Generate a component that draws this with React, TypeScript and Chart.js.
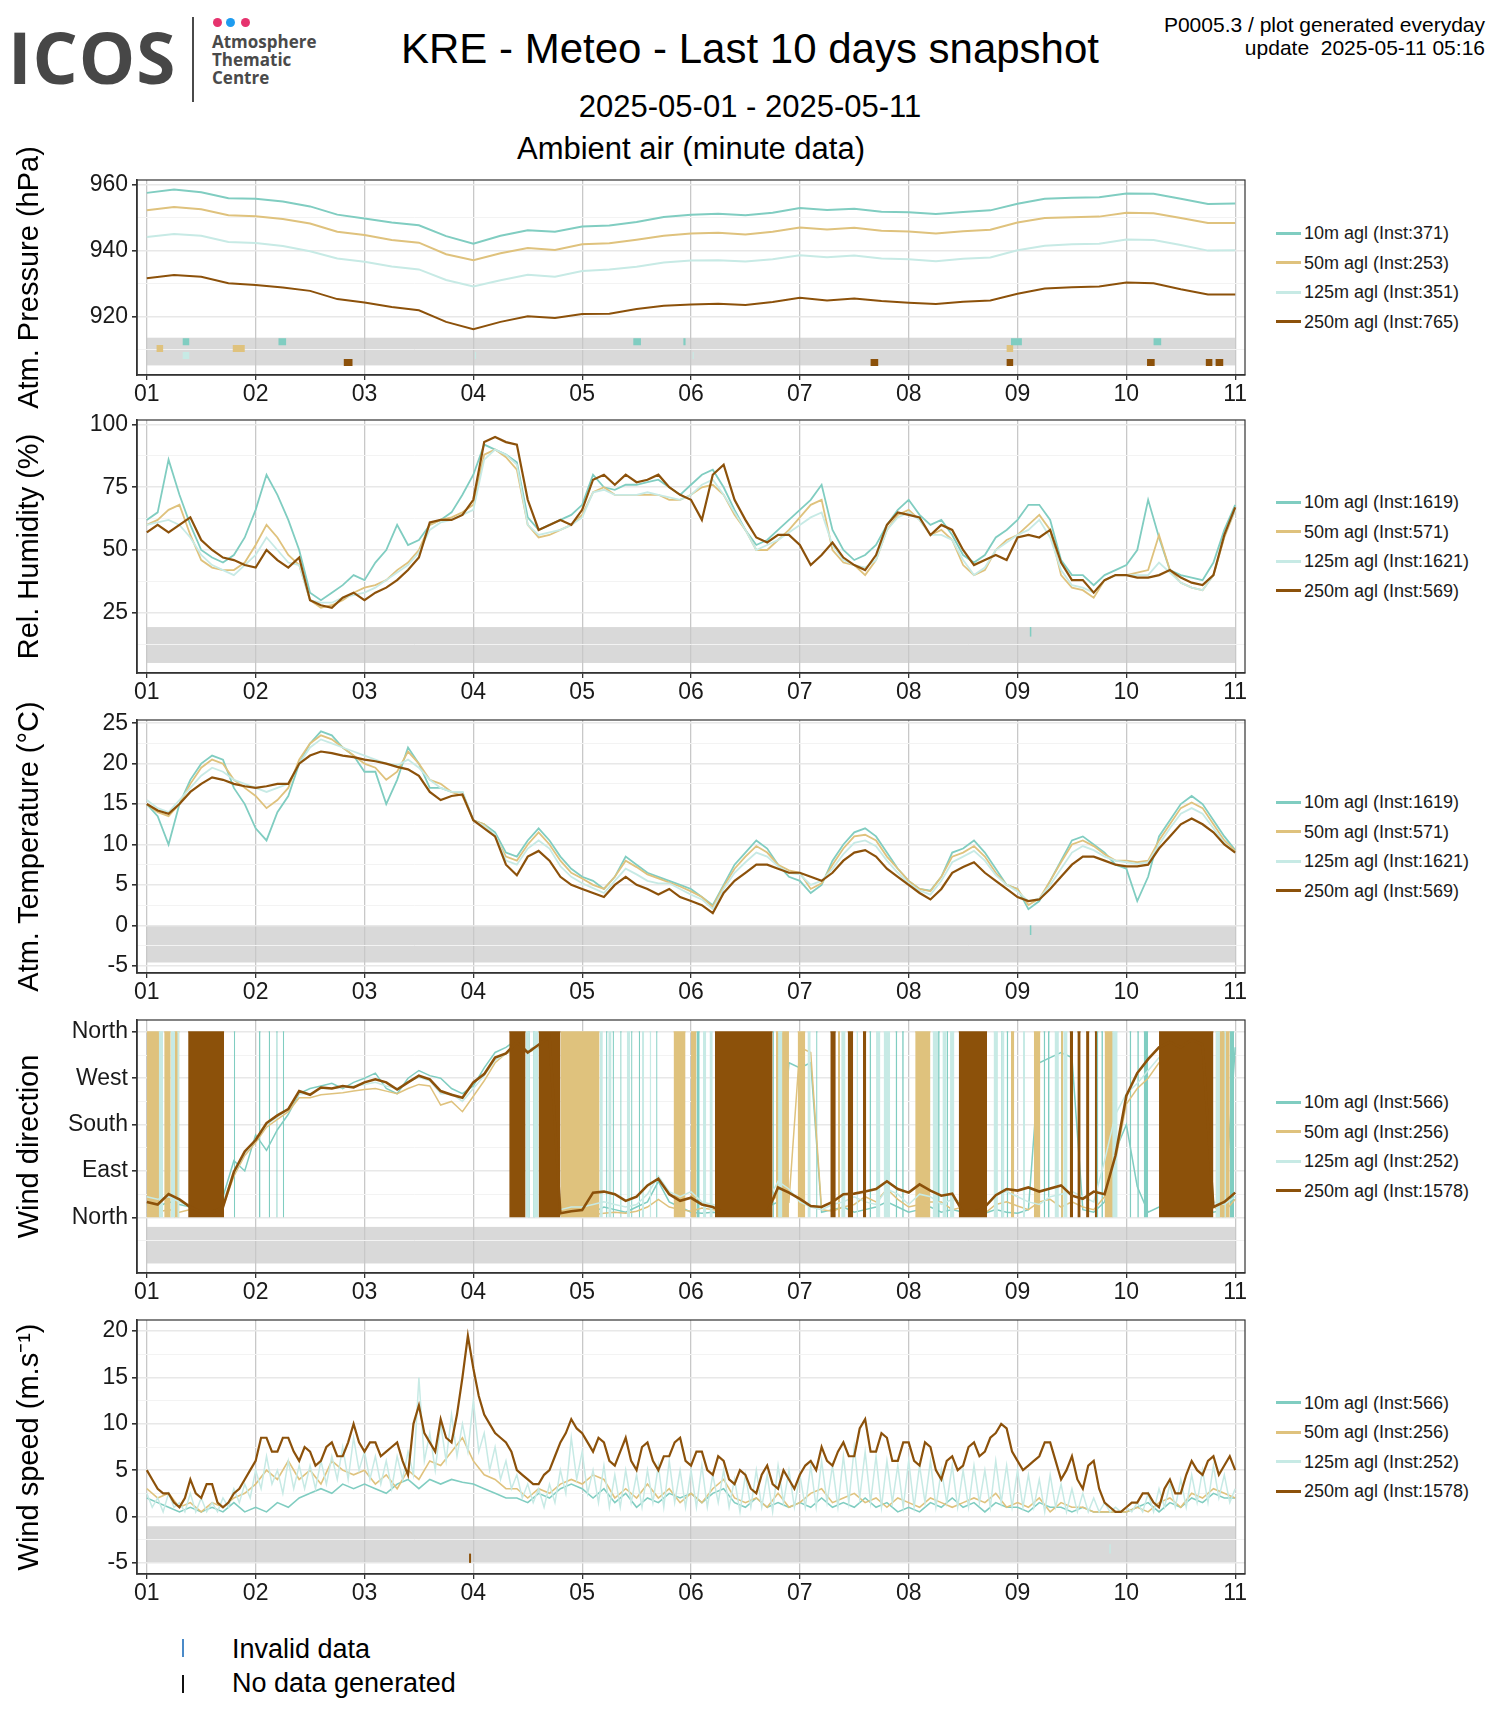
import React, { useEffect, useRef } from 'react';
import { Chart, registerables } from 'chart.js';

Chart.register(...registerables);

const FONT = "'Liberation Sans', Arial, Helvetica, sans-serif";
const LOGO_FONT = "'Open Sans', 'Noto Sans', sans-serif";
Chart.defaults.font.family = FONT;
Chart.defaults.color = '#1a1a1a';

// ---------- colours ----------
const C10 = '#80cdc1';
const C50 = '#dfc27d';
const C125 = '#c7eae5';
const C250 = '#8c510a';
const COLORS = [C10, C50, C125, C250];

// ---------- x axis ----------
const X0 = 1;
const STEP = 0.1;
const FINE_STEP = 0.05;
const PSTEP = 0.25;
const X_MIN = 0.91;
const X_MAX = 11.09;
const DAY_TICKS = [1, 2, 3, 4, 5, 6, 7, 8, 9, 10, 11];
const DAY_LABELS = ['01', '02', '03', '04', '05', '06', '07', '08', '09', '10', '11'];
const BAND_X = [1, 11];

// ---------- pressure (hPa), 6-hourly ----------
const P_10 = [957.6, 958.6, 957.8, 956.0, 955.8, 955.0, 953.5, 951.0, 949.8, 948.6, 947.8, 944.5, 942.2, 944.6, 946.3, 945.8, 947.4, 947.7, 948.8, 950.3, 951.0, 951.3, 950.8, 951.6, 953.0, 952.4, 952.8, 951.9, 951.7, 951.2, 951.8, 952.3, 954.3, 955.8, 956.1, 956.3, 957.4, 957.3, 955.8, 954.2, 954.4];
const P_50 = [952.3, 953.3, 952.6, 950.8, 950.5, 949.7, 948.3, 945.8, 944.8, 943.3, 942.5, 939.0, 937.2, 939.3, 940.9, 940.3, 942.0, 942.3, 943.4, 944.6, 945.3, 945.5, 945.0, 945.8, 947.1, 946.5, 947.0, 946.1, 945.9, 945.3, 946.0, 946.4, 948.6, 950.0, 950.2, 950.4, 951.6, 951.4, 950.0, 948.5, 948.5];
const P_125 = [944.2, 945.1, 944.6, 942.7, 942.4, 941.5, 939.9, 937.7, 936.7, 935.3, 934.4, 931.2, 929.2, 931.1, 932.8, 932.2, 933.9, 934.4, 935.2, 936.5, 937.1, 937.2, 936.8, 937.5, 938.7, 938.1, 938.6, 937.7, 937.5, 936.9, 937.6, 938.0, 940.2, 941.6, 942.0, 942.2, 943.5, 943.3, 941.8, 940.1, 940.2];
const P_250 = [931.7, 932.7, 932.2, 930.2, 929.7, 928.9, 927.9, 925.4, 924.4, 923.0, 922.0, 918.5, 916.3, 918.5, 920.2, 919.7, 920.9, 921.0, 922.4, 923.4, 923.8, 924.0, 923.6, 924.5, 925.8, 925.0, 925.6, 924.8, 924.3, 923.9, 924.6, 925.0, 927.0, 928.6, 929.0, 929.2, 930.4, 930.2, 928.4, 926.8, 926.8];
const PM_10 = [[1.33, 1.39], [2.21, 2.28], [5.47, 5.54], [5.93, 5.95], [8.94, 9.04], [10.25, 10.32]];
const PM_50 = [[1.09, 1.15], [1.79, 1.9], [8.9, 8.96]];
const PM_125 = [[1.33, 1.39], [4.015, 4.025], [6.015, 6.025]];
const PM_250 = [[2.81, 2.89], [7.65, 7.72], [8.9, 8.96], [10.19, 10.26], [10.73, 10.79], [10.82, 10.89]];
const PM_Y = [912.5, 910.4, 908.3, 906.2];
const P_TICKS = [910, 920, 930, 940, 950, 960];
const P_LABELS = ['', '920', '', '940', '', '960'];
const P_BAND = [905.3, 913.7];
const P_LEGEND = ['10m agl (Inst:371)', '50m agl (Inst:253)', '125m agl (Inst:351)', '250m agl (Inst:765)'];

// ---------- relative humidity (%) ----------
const RH_10 = [62, 65, 86, 72, 60, 50, 47, 45, 48, 55,
  66, 80, 72, 62, 50, 33, 30, 33, 36, 40,
  38, 45, 50, 60, 52, 54, 60, 62, 65, 72,
  80, 92, 90, 88, 85, 63, 58, 60, 62, 64,
  68, 80, 75, 74, 76, 76, 77, 78, 75, 72,
  76, 80, 82, 75, 66, 58, 52, 54, 58, 62,
  66, 70, 76, 58, 50, 46, 48, 52, 60, 66,
  70, 64, 60, 62, 56, 48, 45, 48, 55, 58,
  62, 68, 68, 62, 46, 40, 40, 36, 40, 42,
  44, 50, 70, 55, 42, 40, 39, 38, 45, 58,
  68];
const RH_50 = [60, 62, 66, 68, 56, 46, 43, 42, 42, 45,
  52, 60, 55, 48, 44, 30, 27, 28, 30, 33,
  35, 36, 38, 42, 45, 50, 60, 62, 63, 65,
  68, 88, 90, 87, 82, 60, 55, 56, 58, 60,
  64, 73, 75, 72, 72, 72, 72, 72, 70, 70,
  72, 75, 76, 72, 64, 58, 50, 50, 54, 58,
  63, 68, 70, 50, 45, 44, 40, 46, 58, 64,
  66, 62, 56, 58, 54, 44, 40, 42, 50, 54,
  56, 60, 64, 58, 40, 35, 34, 31, 38, 40,
  40, 41, 42, 56, 42, 37, 35, 34, 40, 55,
  66];
const RH_125 = [60, 61, 62, 60, 55, 48, 44, 42, 40, 44,
  48, 55, 50, 45, 44, 30, 29, 29, 31, 32,
  33, 35, 38, 41, 44, 49, 58, 61, 62, 64,
  66, 86, 90, 88, 84, 60, 56, 57, 58, 60,
  63, 73, 74, 72, 72, 72, 73, 72, 71, 70,
  72, 76, 78, 72, 65, 58, 50, 52, 54, 57,
  60, 63, 65, 52, 46, 44, 43, 46, 58, 63,
  65, 62, 56, 56, 54, 46, 40, 43, 50, 53,
  56, 58, 62, 55, 42, 36, 35, 33, 38, 40,
  40, 40, 40, 45, 41, 37, 35, 34, 40, 56,
  66];
const RH_250 = [57, 60, 57, 60, 63, 54, 50, 47, 46, 44,
  43, 50, 46, 43, 47, 30, 28, 27, 31, 33,
  30, 33, 35, 38, 42, 47, 61, 62, 62, 64,
  70, 93, 95, 93, 92, 70, 58, 60, 62, 60,
  66, 78, 80, 76, 80, 77, 78, 80, 75, 72,
  70, 62, 80, 84, 70, 62, 55, 53, 56, 56,
  52, 44, 48, 53, 47, 44, 42, 48, 60, 65,
  64, 63, 56, 60, 58, 50, 44, 46, 48, 46,
  55, 56, 55, 58, 45, 38, 38, 33, 38, 40,
  40, 39, 39, 40, 42, 39, 37, 36, 40, 56,
  67];
const RH_INVALID_10 = [[9.12, 15.5, 19.3]];
const RH_TICKS = [12.5, 25, 37.5, 50, 62.5, 75, 87.5, 100];
const RH_LABELS = ['', '25', '', '50', '', '75', '', '100'];
const RH_BAND = [5, 19.3];
const RH_LEGEND = ['10m agl (Inst:1619)', '50m agl (Inst:571)', '125m agl (Inst:1621)', '250m agl (Inst:569)'];

// ---------- temperature (°C) ----------
const T_10 = [15, 13.5, 10, 15, 18, 20, 21, 20.5, 17, 15,
  12, 10.5, 14, 16, 20, 22.5, 24, 23.5, 22, 21,
  19, 19, 15, 18, 22, 20, 17, 17, 16.5, 16.5,
  13, 12.5, 11.5, 9, 8.5, 10.5, 12, 10.5, 8.5, 7,
  6, 5.5, 4.5, 6, 8.5, 7.5, 6.5, 6, 5.5, 5,
  4.5, 3.5, 2.5, 5, 7.5, 9, 10.5, 9.5, 7.5, 6,
  5.5, 4, 5, 8, 10, 11.5, 12, 11, 9, 7,
  5.5, 4.5, 4.3, 6, 9, 9.5, 10.5, 9, 7, 5,
  4.5, 2, 3, 5.5, 8, 10.5, 11, 10, 9, 7.5,
  7, 3, 6, 11, 13, 15, 16, 15, 13, 11,
  9.3];
const T_50 = [15, 14, 13.5, 15, 17.5, 19.5, 20.5, 20, 18, 17,
  16, 14.5, 15.5, 17, 20.5, 22.5, 23.5, 23, 22, 21,
  20, 19.5, 18, 19, 21.5, 20, 18, 17.5, 16.5, 16,
  13, 12.5, 11, 8.5, 8, 10, 11.5, 10, 8, 6.5,
  5.8, 5, 4.5, 6, 8, 7.2, 6.3, 5.8, 5.3, 4.8,
  4.2, 3.5, 2.3, 4.8, 7, 8.5, 9.8, 9, 7.5, 6.8,
  6.5, 4.5, 5.2, 7.5, 9.5, 11, 11.2, 10.5, 8.5, 7,
  5.5, 4.5, 4.2, 6, 8.5, 9, 9.8, 8.5, 6.5, 5,
  4.5, 2.5, 3.3, 5.5, 7.8, 10, 10.5, 9.8, 8.8, 8,
  8, 7.8, 8, 10.5, 12.5, 14.5, 15.2, 14.5, 12.5, 10.5,
  9.2];
const T_125 = [15.5, 14.5, 14, 15.5, 17, 18.5, 19.5, 19, 18, 17.5,
  17, 16.5, 17, 17.5, 20, 22, 23, 22.5, 22, 21.5,
  21, 20.5, 20, 19.8, 20.5, 19.5, 18, 17, 16.5, 16.5,
  13, 12.3, 11.2, 8, 7.5, 9.5, 10.5, 9.5, 7.3, 6,
  5.2, 4.6, 4, 5.5, 7, 6.3, 5.5, 5.2, 5.2, 4.5,
  3.8, 3.2, 2, 4.5, 6.5, 7.8, 9, 8.5, 7.3, 6.5,
  6.3, 5, 5.5, 7, 8.8, 10.2, 10.5, 9.8, 8, 6.5,
  5.2, 4.3, 3.8, 5.5, 7.8, 8.5, 9.2, 8, 6.2, 5,
  4.2, 3, 3.3, 5, 7, 9, 9.8, 9.3, 8.5, 8,
  7.8, 7.6, 7.8, 10, 12, 13.8, 14.5, 13.8, 12, 10.2,
  9];
const T_250 = [15, 14.2, 13.8, 15, 16.5, 17.5, 18.3, 18, 17.5, 17.2,
  17, 17.2, 17.5, 17.5, 20, 21, 21.5, 21.3, 21, 20.8,
  20.5, 20.3, 20, 19.6, 19.3, 18.5, 16.5, 15.5, 16, 16.2,
  13, 12, 11, 7.5, 6.2, 8.5, 9.2, 8, 6, 5,
  4.5, 4, 3.5, 5, 6, 5, 4.5, 3.8, 4.5, 3.5,
  3, 2.5, 1.5, 4, 5.5, 6.5, 7.5, 7.5, 7, 6.5,
  6.5, 6, 5.5, 6.5, 8, 9, 9.3, 8.5, 7, 6,
  5, 4, 3.2, 4.5, 6.5, 7.2, 7.8, 6.5, 5.5, 4.5,
  3.5, 3, 3.2, 4.5, 6, 7.5, 8.5, 8.5, 8, 7.5,
  7.3, 7.3, 7.5, 9.5, 11, 12.5, 13.2, 12.5, 11.5, 10,
  9];
const T_INVALID_10 = [[9.12, -1.2, 0]];
const T_TICKS = [-5, -2.5, 0, 2.5, 5, 7.5, 10, 12.5, 15, 17.5, 20, 22.5, 25];
const T_LABELS = ['-5', '', '0', '', '5', '', '10', '', '15', '', '20', '', '25'];
const T_BAND = [-4.6, 0];
const T_LEGEND = ['10m agl (Inst:1619)', '50m agl (Inst:571)', '125m agl (Inst:1621)', '250m agl (Inst:569)'];

// ---------- wind direction (deg) ----------
const WD_10 = [25, 20, 30, 25, 20, 15, 20, 40, 110, 90,
  160, 130, 170, 200, 240, 250, 255, 260, 250, 262,
  270, 280, 250, 240, 270, 285, 275, 270, 250, 240,
  255, 290, 320, 330, 345, 320, 330, 350, 5, 3,
  5, 10, 20, 15, 10, 20, 30, 70, 30, 20,
  10, 8, 10, 8, 10, 15, 10, 20, 30, 300,
  290, 300, 10, 15, 20, 10, 15, 20, 30, 20,
  10, 15, 20, 10, 15, 10, 5, 8, 15, 10,
  8, 15, 300, 310, 320, 310, 15, 10, 30, 130,
  180, 60, 10, 20, 15, 10, 15, 20, 10, 15,
  330];
const WD_50 = [10, 10, 15, 10, 15, 10, 15, 20, 80, 120,
  145, 175, 190, 205, 232, 232, 238, 240, 242, 245,
  248, 250, 245, 240, 250, 258, 255, 218, 225, 205,
  235, 265, 300, 318, 325, 320, 330, 345, 5, 5,
  5, 5, 8, 10, 8, 12, 20, 35, 20, 15,
  12, 18, 15, 10, 12, 15, 15, 20, 45, 30,
  330, 320, 15, 12, 20, 25, 40, 30, 55, 35,
  20, 25, 30, 30, 15, 20, 10, 8, 25, 30,
  22, 15, 30, 35, 20, 30, 20, 15, 40, 110,
  220, 250, 270, 300, 320, 330, 320, 340, 20, 10,
  35];
const WD_125 = [40, 35, 40, 30, 20, 15, 20, 30, 85, 125,
  150, 180, 195, 210, 240, 240, 250, 250, 252, 255,
  258, 262, 255, 250, 262, 272, 265, 240, 240, 225,
  250, 275, 305, 318, 330, 325, 335, 345, 15, 20,
  20, 25, 30, 25, 20, 25, 45, 80, 50, 40,
  50, 30, 25, 20, 20, 25, 20, 30, 70, 55,
  30, 20, 15, 25, 30, 40, 30, 25, 55, 45,
  25, 45, 40, 25, 35, 30, 25, 20, 45, 50,
  40, 30, 25, 40, 45, 50, 40, 30, 110, 200,
  240, 260, 285, 310, 330, 325, 340, 330, 30, 25,
  40];
const WD_250 = [30, 25, 45, 35, 20, 10, 10, 20, 88, 128,
  150, 183, 198, 210, 245, 238, 252, 250, 255, 252,
  262, 268, 262, 248, 262, 275, 268, 245, 238, 232,
  262, 278, 310, 318, 340, 320, 335, 350, 8, 12,
  14, 48, 50, 45, 32, 40, 62, 75, 45, 32,
  38, 25, 20, 10, 10, 10, 10, 10, 58, 48,
  36, 22, 20, 30, 45, 46, 50, 55, 70, 55,
  48, 64, 52, 42, 46, 10, 10, 20, 43, 55,
  52, 58, 50, 56, 62, 42, 36, 50, 45, 120,
  236, 280, 307, 330, 340, 330, 345, 335, 20, 30,
  48];
// periods where the direction wraps North <-> North (dense vertical strokes)
const WB_10 = [[1.8, 1.812], [2.03, 2.045], [2.12, 2.132], [2.19, 2.202], [2.25, 2.262], [4.5, 4.52], [4.55, 4.565], [5.22, 5.232], [5.28, 5.292], [5.35, 5.362], [5.45, 5.462], [5.52, 5.532], [5.68, 5.692], [6.05, 6.08], [6.75, 6.762], [7.15, 7.162], [7.64, 7.655], [7.88, 7.895], [7.94, 7.955], [8.27, 8.285], [8.35, 8.362], [8.85, 8.865], [8.9, 8.915], [9.24, 9.255], [9.28, 9.295], [9.4, 9.412], [9.73, 9.742], [9.77, 9.785], [10.03, 10.045], [10.1, 10.115], [10.16, 10.2], [10.88, 10.895], [10.95, 10.99]];
const WB_50 = [[1.0, 1.12], [1.16, 1.22], [1.25, 1.3], [4.8, 5.16], [5.84, 5.95], [6.0, 6.05], [6.78, 6.9], [6.98, 7.05], [7.35, 7.37], [8.06, 8.2], [8.94, 8.97], [9.15, 9.21], [9.4, 9.42], [9.8, 9.88], [10.82, 10.95]];
const WB_125 = [[1.11, 1.15], [1.22, 1.26], [1.28, 1.3], [4.48, 4.52], [4.55, 4.6], [5.16, 5.19], [5.24, 5.27], [5.41, 5.44], [5.55, 5.57], [5.62, 5.635], [6.11, 6.14], [6.17, 6.2], [6.8, 6.84], [7.07, 7.1], [7.38, 7.42], [7.52, 7.535], [7.7, 7.74], [7.77, 7.83], [8.22, 8.27], [8.31, 8.35], [8.38, 8.42], [8.78, 8.82], [8.85, 8.88], [9.05, 9.07], [9.34, 9.38], [9.42, 9.46], [9.87, 9.92], [10.82, 10.86], [10.9, 10.915]];
const WB_250 = [[1.38, 1.71], [4.33, 4.48], [4.6, 4.8], [6.22, 6.75], [7.28, 7.33], [7.44, 7.49], [7.58, 7.61], [8.46, 8.72], [9.48, 9.51], [9.55, 9.58], [9.63, 9.66], [9.71, 9.73], [10.3, 10.8]];
const WD_TICKS = [-45, 0, 45, 90, 135, 180, 225, 270, 315, 360];
const WD_LABELS = ['', 'North', '', 'East', '', 'South', '', 'West', '', 'North'];
const WD_BAND = [-89.5, -18.5];
const WD_TOP = 360;
const WD_LEGEND = ['10m agl (Inst:566)', '50m agl (Inst:256)', '125m agl (Inst:252)', '250m agl (Inst:1578)'];

// ---------- wind speed (m/s) ----------
const WS_10 = [2, 1.5, 1, 0.5, 1, 0.5, 1, 0.5, 1.5, 0.5,
  1, 0.5, 1.5, 1, 2, 2.5, 3, 2.5, 3.5, 3,
  3.5, 3, 2.5, 3.5, 4, 3, 4, 3.5, 4, 3.7,
  3.5, 3, 2.5, 2, 2, 1.5, 2.5, 2, 3, 3.5,
  3, 2, 3, 1.5, 2.5, 1, 2, 1.5, 2.5, 2,
  2.5, 1.5, 2.5, 3, 1.5, 1, 2, 1, 1.5, 1,
  1.5, 1, 2, 1, 1.5, 1, 2, 1, 1.5, 0.5,
  1, 0.5, 1.5, 1, 2, 1, 1.5, 0.5, 1.5, 1,
  1, 0.5, 1.5, 1, 1, 0.5, 1, 0.5, 0.5, 0.5,
  0.5, 1, 1.5, 0.5, 1.5, 1, 2, 1.5, 2.5, 2,
  2];
const WS_50 = [3, 2, 2.5, 1, 1.5, 0.5, 1.5, 1, 2, 2.5,
  3.5, 5, 4, 6, 4, 5, 3.5, 6, 5, 4.5,
  5, 3.5, 4.5, 3, 5, 4, 6, 5.5, 7, 8.5,
  6, 4.5, 4, 3, 3, 2, 3, 2.5, 3.5, 4,
  3.5, 4.5, 4, 2, 3, 2, 3.5, 2, 3, 1.5,
  2.5, 1.5, 3, 4, 2, 1.5, 2, 1, 2.5, 1,
  1.5, 2.5, 3, 1.5, 2, 2.5, 1.5, 2, 1, 2,
  1.5, 1, 2, 1.5, 1, 1.5, 2, 1.5, 2.5, 1,
  1.5, 1, 2, 0.5, 1.5, 1, 1, 0.5, 0.5, 0.5,
  0.5, 1, 0.5, 1.5, 2, 1, 2.5, 2, 3, 2.5,
  2];
// 125 m and 250 m read at a finer (1.2 h) step
const WS_125 = [2.5, 1, 2, 0.5, 2.5, 1, 1.5, 0.5, 2.5, 0.5,
  2, 0.5, 1.5, 0.5, 2, 1, 3, 1.5, 3.5, 2,
  5, 3, 6.5, 3.5, 5, 2.5, 6, 3, 5.5, 3,
  5.5, 3, 6, 3.5, 6.5, 4, 7.5, 4, 8.5, 5,
  7, 4, 6.5, 3.5, 6, 3, 6.5, 4, 7, 4.5,
  15, 6, 9, 5, 10, 6, 11, 6.5, 10, 7,
  12.5, 7, 9, 5, 7.5, 4, 6, 3, 4.5, 2,
  3.5, 1.5, 3, 1, 3.5, 1.5, 5, 2.5, 8.5, 4,
  7, 2.5, 5, 1.5, 5.5, 1, 4.5, 1, 5, 1.5,
  4.5, 1, 5, 1.5, 5.5, 1, 6, 1.5, 5, 1,
  5, 1, 5.5, 1, 4.5, 1.5, 5, 1, 4, 0.5,
  4.5, 1, 5, 1, 4.5, 0.5, 5.5, 1.5, 5, 1,
  4.5, 1, 5.5, 1, 6, 1.5, 5.5, 1, 6.5, 1.5,
  7.5, 2, 7, 1.5, 6.5, 1, 6, 1.5, 5.5, 1,
  6, 1, 5.5, 1.5, 6, 1, 5, 1.5, 5.5, 1,
  5, 1, 5.5, 1.5, 5, 1, 6, 1.5, 5.5, 1,
  5, 1, 4.5, 1, 4, 0.5, 4.5, 1, 3.5, 0.5,
  3, 0.5, 2.5, 0.5, 2, 0.5, 1.5, 0.5, 1, 0.5,
  1, 0.5, 1.5, 0.5, 2.5, 0.5, 3, 1, 3.5, 1,
  4, 1, 4.5, 1.5, 5, 1.5, 5.5, 2, 4.5, 1.5,
  3];
const WS_250 = [5, 4, 3, 2.5, 2.5, 1.5, 1, 2, 4, 2.5,
  2, 3.5, 3.5, 1.5, 1, 1.5, 2.5, 3, 4, 5,
  6, 8.5, 8.5, 7, 7, 8.5, 8.5, 7, 6, 7.5,
  7, 5.5, 6, 7.5, 8, 6.5, 6.5, 8, 10, 8,
  7, 8, 8, 6.5, 7, 7.5, 8, 6, 4.5, 10,
  12, 9, 8, 7, 10.5, 8.5, 8, 11, 15, 19.5,
  16, 13, 11, 10, 9, 8.5, 8, 7, 5, 4.5,
  4, 3.5, 3.5, 4.5, 5, 6.5, 8, 9, 10.5, 9.5,
  9, 8, 7, 8.5, 8, 6, 5.5, 7, 8.5, 6,
  5, 7.5, 8, 6, 5, 6.5, 6.5, 8, 8.5, 6,
  5.5, 7, 7, 5, 4.5, 6.5, 6, 4, 3.5, 5,
  4.5, 3, 2.5, 4.5, 5.5, 3.5, 3, 5, 4, 3,
  4.5, 5.5, 6, 5, 7.5, 6, 5.5, 7, 8, 6.5,
  6.5, 9.5, 10.5, 7, 7, 9, 8.5, 6, 6, 8,
  8, 6, 5.5, 8, 7.5, 5, 4, 6, 6.5, 5,
  5.5, 7.5, 8, 6.5, 7, 8.5, 9, 10, 9.5, 7,
  6, 5, 5.5, 6, 6.5, 8, 8, 6, 4, 5,
  6.5, 4, 3, 5.5, 6, 3, 1.5, 1, 0.5, 0.5,
  1, 1.5, 1.5, 2.5, 2.5, 1.5, 1, 3, 4, 2.5,
  2.5, 4.5, 6, 5, 4.5, 6, 6.5, 4.5, 5.5, 6.5,
  5];
const WS_INVALID_250 = [[3.97, -5, -4]];
const WS_INVALID_125 = [[9.85, -4, -3]];
const WS_TICKS = [-5, -2.5, 0, 2.5, 5, 7.5, 10, 12.5, 15, 17.5, 20];
const WS_LABELS = ['-5', '', '0', '', '5', '', '10', '', '15', '', '20'];
const WS_BAND = [-5, -1.05];
const WS_LEGEND = ['10m agl (Inst:566)', '50m agl (Inst:256)', '125m agl (Inst:252)', '250m agl (Inst:1578)'];

// ---------- helpers ----------
type Pt = { x: number; y: number | null };
const series = (vals: number[], step: number): Pt[] =>
  vals.map((v, i) => ({ x: Math.round((X0 + i * step) * 1000) / 1000, y: v }));
const segments = (iv: number[][], y: number): Pt[] =>
  iv.flatMap(([a, b]) => [{ x: a, y }, { x: b, y }, { x: b, y: null }]);
const verticals = (iv: number[][]): Pt[] =>
  iv.flatMap(([x, y1, y2]) => [{ x, y: y1 }, { x, y: y2 }, { x, y: null }]);

const line = (data: Pt[], color: string, width: number, order: number) => ({
  type: 'line', data, borderColor: color, backgroundColor: color, borderWidth: width,
  pointRadius: 0, tension: 0, spanGaps: false, fill: false, order,
});
const mark = (data: Pt[], color: string, width: number) => ({
  type: 'line', data, borderColor: color, backgroundColor: color, borderWidth: width,
  borderCapStyle: 'butt', pointRadius: 0, spanGaps: false, fill: false, order: 0,
});
const wrapBand = (iv: number[][], color: string, order: number) => ({
  type: 'line', data: segments(iv, WD_TOP), borderColor: color, backgroundColor: color,
  borderWidth: 1, pointRadius: 0, spanGaps: false, fill: { value: 0 }, order,
});

const PANELS = [
  {
    key: 'p', top: 180, bottom: 375, yMin: 902.4, yMax: 961.5,
    ticks: P_TICKS, labels: P_LABELS, band: P_BAND, title: 'Atm. Pressure (hPa)', legend: P_LEGEND,
    sets: () => [
      line(series(P_10, PSTEP), C10, 2, 4),
      line(series(P_50, PSTEP), C50, 2, 3),
      line(series(P_125, PSTEP), C125, 2, 2),
      line(series(P_250, PSTEP), C250, 2, 1),
      mark(segments(PM_10, PM_Y[0]), C10, 7),
      mark(segments(PM_50, PM_Y[1]), C50, 7),
      mark(segments(PM_125, PM_Y[2]), C125, 7),
      mark(segments(PM_250, PM_Y[3]), C250, 7),
    ],
  },
  {
    key: 'rh', top: 420, bottom: 673, yMin: 1, yMax: 101.8,
    ticks: RH_TICKS, labels: RH_LABELS, band: RH_BAND, title: 'Rel. Humidity (%)', legend: RH_LEGEND,
    sets: () => [
      line(series(RH_10, STEP), C10, 1.8, 4),
      line(series(RH_50, STEP), C50, 1.8, 3),
      line(series(RH_125, STEP), C125, 1.8, 2),
      line(series(RH_250, STEP), C250, 2.2, 1),
      mark(verticals(RH_INVALID_10), C10, 1.5),
    ],
  },
  {
    key: 't', top: 720, bottom: 973, yMin: -5.9, yMax: 25.4,
    ticks: T_TICKS, labels: T_LABELS, band: T_BAND, title: 'Atm. Temperature (°C)', legend: T_LEGEND,
    sets: () => [
      line(series(T_10, STEP), C10, 1.8, 4),
      line(series(T_50, STEP), C50, 1.8, 3),
      line(series(T_125, STEP), C125, 1.8, 2),
      line(series(T_250, STEP), C250, 2.2, 1),
      mark(verticals(T_INVALID_10), C10, 1.5),
    ],
  },
  {
    key: 'wd', top: 1020, bottom: 1273, yMin: -108, yMax: 383,
    ticks: WD_TICKS, labels: WD_LABELS, band: WD_BAND, title: 'Wind direction', legend: WD_LEGEND,
    sets: () => [
      wrapBand(WB_10, C10, 8),
      line(series(WD_10, STEP), C10, 1.5, 7),
      wrapBand(WB_50, C50, 6),
      line(series(WD_50, STEP), C50, 1.5, 5),
      wrapBand(WB_125, C125, 4),
      line(series(WD_125, STEP), C125, 1.5, 3),
      wrapBand(WB_250, C250, 2),
      line(series(WD_250, STEP), C250, 2.6, 1),
    ],
  },
  {
    key: 'ws', top: 1320, bottom: 1574, yMin: -6.2, yMax: 21.2,
    ticks: WS_TICKS, labels: WS_LABELS, band: WS_BAND, title: 'Wind speed (m.s⁻¹)', legend: WS_LEGEND,
    sets: () => [
      line(series(WS_10, STEP), C10, 1.6, 4),
      line(series(WS_50, STEP), C50, 1.6, 3),
      line(series(WS_125, FINE_STEP), C125, 1.5, 2),
      line(series(WS_250, FINE_STEP), C250, 2.2, 1),
      mark(verticals(WS_INVALID_250), C250, 2),
      mark(verticals(WS_INVALID_125), C125, 1.5),
    ],
  },
];

const CANVAS_W = 1270;
const PAD_TOP = 42;
const XAXIS_H = 40;
const Y_AXIS_W = 137;

const bandPlugin = (band: number[]) => ({
  id: 'greyBand',
  beforeDraw(chart: any) {
    const { ctx, scales } = chart;
    const x1 = scales.x.getPixelForValue(BAND_X[0]);
    const x2 = scales.x.getPixelForValue(BAND_X[1]);
    const y1 = scales.y.getPixelForValue(band[1]);
    const y2 = scales.y.getPixelForValue(band[0]);
    ctx.save();
    ctx.fillStyle = '#d9d9d9';
    ctx.fillRect(x1, y1, x2 - x1, y2 - y1);
    ctx.restore();
  },
});

const framePlugin = {
  id: 'panelFrame',
  afterDatasetsDraw(chart: any) {
    const { ctx, chartArea: a } = chart;
    ctx.save();
    ctx.strokeStyle = '#333333';
    ctx.lineWidth = 1.2;
    ctx.strokeRect(a.left, a.top, a.right - a.left, a.bottom - a.top);
    ctx.restore();
  },
};

function PanelChart({ cfg }: { cfg: any }) {
  const ref = useRef<HTMLCanvasElement>(null);
  const h = cfg.bottom - cfg.top + PAD_TOP + XAXIS_H;
  useEffect(() => {
    const labels: string[] = cfg.labels;
    const chart = new Chart(ref.current as HTMLCanvasElement, {
      type: 'line',
      data: { datasets: cfg.sets() },
      options: {
        animation: false,
        responsive: false,
        maintainAspectRatio: false,
        events: [],
        layout: { padding: { top: PAD_TOP, right: CANVAS_W - 1245, left: 0, bottom: 0 } },
        plugins: { legend: { display: false }, tooltip: { enabled: false } },
        scales: {
          x: {
            type: 'linear', min: X_MIN, max: X_MAX,
            afterBuildTicks: (s: any) => { s.ticks = DAY_TICKS.map((v) => ({ value: v })); },
            afterFit: (s: any) => { s.height = XAXIS_H; },
            ticks: {
              autoSkip: false, maxRotation: 0, padding: 1, color: '#1a1a1a',
              font: { size: 23, family: FONT },
              callback: (_v: any, i: number) => DAY_LABELS[i],
            },
            grid: { color: '#c8c8c8', lineWidth: 1.3, tickColor: '#333333', tickLength: 5, drawTicks: true },
            border: { display: true, color: '#333333', width: 1.6 },
          },
          y: {
            type: 'linear', min: cfg.yMin, max: cfg.yMax,
            afterBuildTicks: (s: any) => { s.ticks = cfg.ticks.map((v: number) => ({ value: v })); },
            afterFit: (s: any) => { s.width = Y_AXIS_W; },
            ticks: {
              autoSkip: false, padding: 4, color: '#1a1a1a',
              font: { size: 23, family: FONT },
              callback: (_v: any, i: number) => labels[i],
            },
            grid: {
              color: (c: any) => (labels[c.index] ? '#e8e8e8' : '#f3f3f3'),
              lineWidth: (c: any) => (labels[c.index] ? 1.6 : 1),
              tickColor: (c: any) => (labels[c.index] ? '#333333' : 'rgba(0,0,0,0)'),
              tickLength: 5, drawTicks: true,
            },
            border: { display: true, color: '#333333', width: 1.6 },
            title: {
              display: true, text: cfg.title, color: '#000000',
              font: { size: 29, family: FONT }, padding: { top: 13, bottom: 0 },
            },
          },
        },
      } as any,
      plugins: [bandPlugin(cfg.band), framePlugin],
    } as any);
    return () => chart.destroy();
  }, []);
  return (
    <canvas
      ref={ref}
      width={CANVAS_W}
      height={h}
      style={{ position: 'absolute', left: 0, top: cfg.top - PAD_TOP, width: CANVAS_W, height: h }}
    />
  );
}

function PanelLegend({ cfg }: { cfg: any }) {
  const cy = (cfg.top + cfg.bottom) / 2;
  return (
    <>
      {cfg.legend.map((t: string, k: number) => (
        <div
          key={k}
          style={{
            position: 'absolute', left: 1276, top: cy + (k - 1.5) * 29.5 - 11, height: 22,
            display: 'flex', alignItems: 'center', whiteSpace: 'nowrap',
          }}
        >
          <div style={{ width: 25, height: 3, background: COLORS[k], marginRight: 3 }} />
          <span style={{ fontSize: 18, lineHeight: '22px', color: '#1a1a1a', fontFamily: FONT }}>{t}</span>
        </div>
      ))}
    </>
  );
}

const abs = (o: any) => ({ position: 'absolute' as const, whiteSpace: 'nowrap' as const, lineHeight: 1, ...o });

function Header() {
  return (
    <>
      <div style={abs({ left: 8, top: 21, fontFamily: LOGO_FONT, fontWeight: 700, fontSize: 71, color: '#474747', letterSpacing: 1 })}>ICOS</div>
      <div style={abs({ left: 192, top: 17, width: 2, height: 85, background: '#4a4a4a' })} />
      <div style={abs({ left: 212.5, top: 17.5, width: 9, height: 9, borderRadius: 5, background: '#e6336e' })} />
      <div style={abs({ left: 225.5, top: 17.5, width: 9, height: 9, borderRadius: 5, background: '#1e9cf0' })} />
      <div style={abs({ left: 240.5, top: 17.5, width: 9, height: 9, borderRadius: 5, background: '#e6336e' })} />
      <div style={abs({ left: 212, top: 33, fontFamily: LOGO_FONT, fontWeight: 700, fontSize: 17, color: '#4a4a4a' })}>Atmosphere</div>
      <div style={abs({ left: 212, top: 51, fontFamily: LOGO_FONT, fontWeight: 700, fontSize: 17, color: '#4a4a4a' })}>Thematic</div>
      <div style={abs({ left: 212, top: 69, fontFamily: LOGO_FONT, fontWeight: 700, fontSize: 17, color: '#4a4a4a' })}>Centre</div>

      <div style={abs({ left: 0, width: 1500, top: 27.5, textAlign: 'center', fontSize: 42, fontFamily: FONT })}>
        KRE - Meteo - Last 10 days snapshot
      </div>
      <div style={abs({ left: 0, width: 1500, top: 91, textAlign: 'center', fontSize: 31, fontFamily: FONT })}>
        2025-05-01 - 2025-05-11
      </div>
      <div style={abs({ left: 137, width: 1108, top: 132.5, textAlign: 'center', fontSize: 31, fontFamily: FONT })}>
        Ambient air (minute data)
      </div>
      <div style={abs({ right: 15, top: 13.5, textAlign: 'right', fontSize: 21, fontFamily: FONT })}>
        P0005.3 / plot generated everyday
      </div>
      <div style={abs({ right: 15, top: 37, textAlign: 'right', fontSize: 21, fontFamily: FONT, whiteSpace: 'pre' })}>
        {'update  2025-05-11 05:16'}
      </div>
    </>
  );
}

function BottomLegend() {
  return (
    <>
      <div style={abs({ left: 182, top: 1639, width: 2, height: 18, background: '#4a8ac8' })} />
      <div style={abs({ left: 232, top: 1636, fontSize: 27, fontFamily: FONT })}>Invalid data</div>
      <div style={abs({ left: 182, top: 1675, width: 2, height: 18, background: '#111111' })} />
      <div style={abs({ left: 232, top: 1670, fontSize: 27, fontFamily: FONT })}>No data generated</div>
    </>
  );
}

export default function App() {
  return (
    <div
      style={{
        position: 'absolute', left: 0, top: 0, width: 1500, height: 1725,
        background: '#ffffff', overflow: 'hidden', fontFamily: FONT, color: '#000',
      }}
    >
      <Header />
      {PANELS.map((p) => (
        <PanelChart key={p.key} cfg={p} />
      ))}
      {PANELS.map((p) => (
        <PanelLegend key={'l' + p.key} cfg={p} />
      ))}
      <BottomLegend />
    </div>
  );
}
